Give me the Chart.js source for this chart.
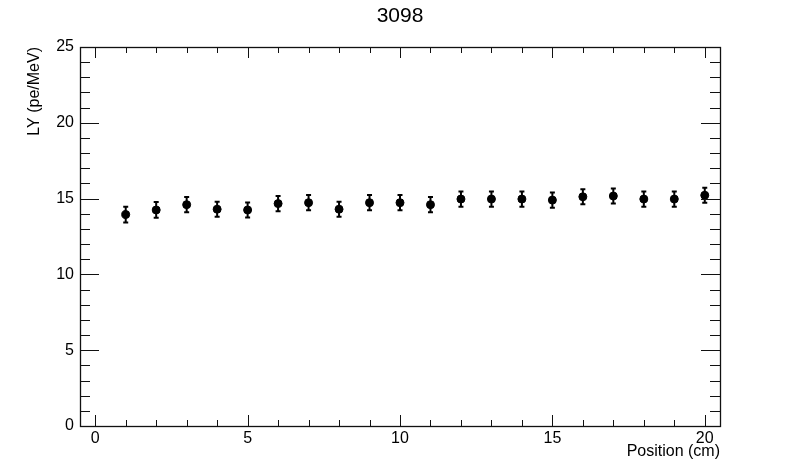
<!DOCTYPE html>
<html lang="en">
<head>
    <meta charset="UTF-8">
    <title>3098</title>
    <style>
        html, body { margin: 0; padding: 0; background: #fff; }
        canvas { display: block; }
    </style>
</head>
<body>

<canvas id="chartCanvas" width="800" height="474" style="width:800px;height:474px"></canvas>

<script src="https://cdn.jsdelivr.net/npm/chart.js"></script>
<script>
    const positions = [1, 2, 3, 4, 5, 6, 7, 8, 9, 10, 11, 12, 13, 14, 15, 16, 17, 18, 19, 20];
    const lightYield = [13.95, 14.25, 14.6, 14.3, 14.25, 14.67, 14.73, 14.3, 14.73, 14.73,
                        14.6, 14.97, 14.97, 14.97, 14.9, 15.12, 15.17, 14.97, 14.97, 15.22];
    const lyError = [0.52, 0.52, 0.5, 0.5, 0.5, 0.5, 0.5, 0.5, 0.5, 0.5,
                     0.5, 0.5, 0.5, 0.5, 0.5, 0.5, 0.5, 0.5, 0.5, 0.5];
    const xTickLabels = [0, 5, 10, 15, 20];
    const yTickLabels = [0, 5, 10, 15, 20, 25];

    const FONT = '"Liberation Sans", Arial, Helvetica, sans-serif';

    // ROOT-like frame, inward ticks, error bars and titles
    const rootStyle = {
        id: 'rootStyle',
        afterDatasetsDraw(chart) {
            const ctx = chart.ctx;
            const xs = chart.scales.x, ys = chart.scales.y;
            ctx.save();
            ctx.strokeStyle = '#000';
            ctx.lineWidth = 2;
            positions.forEach((p, i) => {
                const px = xs.getPixelForValue(p);
                const lo = ys.getPixelForValue(lightYield[i] - lyError[i]);
                const hi = ys.getPixelForValue(lightYield[i] + lyError[i]);
                ctx.beginPath();
                ctx.moveTo(px, lo); ctx.lineTo(px, hi);
                ctx.moveTo(px - 2.5, lo); ctx.lineTo(px + 2.5, lo);
                ctx.moveTo(px - 2.5, hi); ctx.lineTo(px + 2.5, hi);
                ctx.stroke();
            });
            ctx.restore();
        },
        afterDraw(chart) {
            const ctx = chart.ctx;
            const a = chart.chartArea;
            const xs = chart.scales.x, ys = chart.scales.y;
            ctx.save();
            ctx.strokeStyle = '#111';
            ctx.lineWidth = 1.3;
            ctx.strokeRect(a.left + 0.5, a.top + 0.5, a.right - a.left, a.bottom - a.top);

            ctx.lineWidth = 1;
            ctx.beginPath();
            for (let v = 0; v <= 20; v++) {
                const px = Math.round(xs.getPixelForValue(v)) + 0.5;
                const len = v % 5 === 0 ? 11 : 6;
                ctx.moveTo(px, a.bottom); ctx.lineTo(px, a.bottom - len);
                ctx.moveTo(px, a.top); ctx.lineTo(px, a.top + len);
            }
            for (let v = 0; v <= 25; v++) {
                const py = Math.round(ys.getPixelForValue(v)) + 0.5;
                const len = v % 5 === 0 ? 19 : 10;
                ctx.moveTo(a.left, py); ctx.lineTo(a.left + len, py);
                ctx.moveTo(a.right, py); ctx.lineTo(a.right - len, py);
            }
            ctx.stroke();

            ctx.fillStyle = '#000';
            ctx.font = '21px ' + FONT;
            ctx.textAlign = 'center';
            ctx.textBaseline = 'middle';
            ctx.fillText('3098', 400, 16);

            ctx.font = '16px ' + FONT;
            ctx.textAlign = 'right';
            ctx.fillText('Position (cm)', a.right, 452);

            ctx.translate(35, a.top);
            ctx.rotate(-Math.PI / 2);
            ctx.textAlign = 'right';
            ctx.fillText('LY (pe/MeV)', 0, 0);
            ctx.restore();
        }
    };

    const ctx = document.getElementById('chartCanvas').getContext('2d');
    const chart = new Chart(ctx, {
        type: 'scatter',
        data: {
            datasets: [{
                data: positions.map((p, i) => ({x: p, y: lightYield[i]})),
                backgroundColor: '#000',
                borderColor: '#000',
                pointRadius: 4,
                pointHoverRadius: 4
            }]
        },
        options: {
            responsive: false,
            animation: false,
            devicePixelRatio: 1,
            layout: { padding: { left: 0, top: 47, right: 80, bottom: 0 } },
            plugins: {
                legend: { display: false },
                tooltip: { enabled: false }
            },
            scales: {
                x: {
                    type: 'linear',
                    min: -0.5,
                    max: 20.5,
                    grid: { display: false, drawTicks: false },
                    border: { display: false },
                    afterBuildTicks: s => { s.ticks = xTickLabels.map(v => ({value: v})); },
                    afterFit: s => { s.height = 48; },
                    ticks: {
                        color: '#000',
                        padding: 3,
                        maxRotation: 0,
                        font: { family: FONT, size: 16 }
                    }
                },
                y: {
                    type: 'linear',
                    min: 0,
                    max: 25,
                    grid: { display: false, drawTicks: false },
                    border: { display: false },
                    afterBuildTicks: s => { s.ticks = yTickLabels.map(v => ({value: v})); },
                    afterFit: s => { s.width = 80; },
                    ticks: {
                        color: '#000',
                        padding: 6,
                        font: { family: FONT, size: 16 }
                    }
                }
            }
        },
        plugins: [rootStyle]
    });
</script>

</body>
</html>
